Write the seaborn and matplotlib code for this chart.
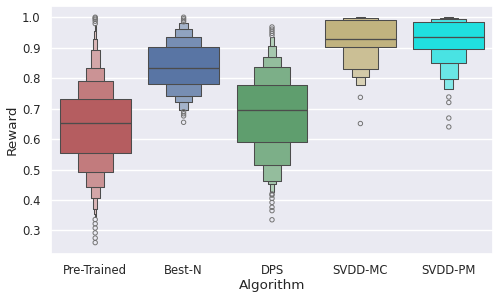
import numpy as np
import pandas as pd
import matplotlib
matplotlib.use("Agg")
import matplotlib.pyplot as plt
import seaborn as sns

algorithms = ["Pre-Trained", "Best-N", "DPS", "SVDD-MC", "SVDD-PM"]
colors = ["#c44e52", "#4c72b0", "#55a868", "#ccb974", "cyan"]
sample_sizes = [2000, 250, 500, 250, 250]
medians = [0.652, 0.832, 0.694, 0.927, 0.935]
# letter values, from the quartile outward
lower_letter_values = [
    [0.555, 0.493, 0.441, 0.405, 0.371, 0.355, 0.344],
    [0.781, 0.740, 0.721, 0.696],
    [0.591, 0.514, 0.463, 0.452, 0.425],
    [0.903, 0.829, 0.805, 0.778],
    [0.897, 0.850, 0.796, 0.764],
]
upper_letter_values = [
    [0.731, 0.789, 0.834, 0.892, 0.930, 0.955, 0.973],
    [0.903, 0.935, 0.960, 0.981],
    [0.778, 0.836, 0.870, 0.905, 0.935],
    [0.990, 0.998, 0.999, 1.000],
    [0.984, 0.995, 0.999, 1.000],
]
lower_outliers = [
    [0.260, 0.275, 0.292, 0.308, 0.322, 0.336],
    [0.655, 0.676, 0.683, 0.690],
    [0.335, 0.365, 0.376, 0.392, 0.405, 0.416, 0.420],
    [0.651, 0.737],
    [0.640, 0.669, 0.720, 0.738],
]
upper_outliers = [
    [0.979, 0.987, 0.993, 0.997, 1.000],
    [0.985, 0.990, 0.995, 1.000],
    [0.940, 0.947, 0.954, 0.961, 0.968],
    [],
    [],
]


def expand(n, med, lows, ups, lo_out, up_out):
    """Sorted sample whose letter values equal the read values."""
    k = len(lows)
    lo_lookup = np.array([med] + list(lows))
    up_lookup = np.array([med] + list(ups))
    q = np.arange(n) / (n - 1)
    tail = np.minimum(q, 1 - q).clip(1e-12)
    depth = np.rint(-np.log2(tail) - 1).astype(int).clip(0, k)
    vals = np.where(q < 0.5, lo_lookup[depth], up_lookup[depth])
    if lo_out:
        vals[: len(lo_out)] = sorted(lo_out)
    if up_out:
        vals[n - len(up_out):] = sorted(up_out)
    return vals


frames = []
for i, alg in enumerate(algorithms):
    v = expand(sample_sizes[i], medians[i], lower_letter_values[i],
               upper_letter_values[i], lower_outliers[i], upper_outliers[i])
    frames.append(pd.DataFrame({"Algorithm": alg, "Reward": v}))
df = pd.concat(frames, ignore_index=True)

sns.set_theme(style="darkgrid")
fig, ax = plt.subplots(figsize=(5.0, 2.98), dpi=100)
fig.subplots_adjust(left=0.102, right=0.986, top=0.980, bottom=0.148)

sns.boxenplot(data=df, x="Algorithm", y="Reward", hue="Algorithm",
              order=algorithms, hue_order=algorithms, palette=colors,
              legend=False, k_depth="tukey", ax=ax,
              flier_kws=dict(marker="o", facecolor="none", edgecolor="0.45",
                             s=10, linewidth=0.7))

ax.set_xlabel("Algorithm", fontsize=9.7, labelpad=1.0)
ax.set_ylabel("Reward", fontsize=9.7, labelpad=2.5)
ax.tick_params(axis="both", labelsize=8.4, pad=1.5)

fig.savefig("out.png", dpi=100)
